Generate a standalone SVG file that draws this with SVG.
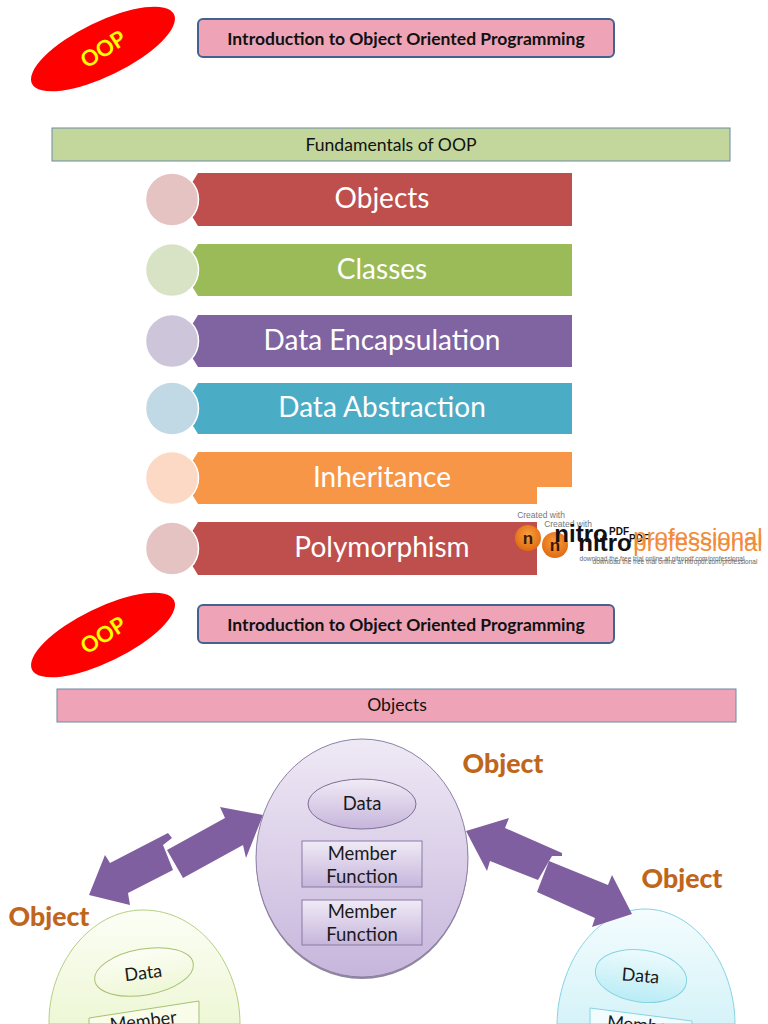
<svg xmlns="http://www.w3.org/2000/svg" width="768" height="1024" viewBox="0 0 768 1024">
<style>
text{font-family:"Lato","Open Sans","Liberation Sans",sans-serif;text-anchor:middle}
.t{font-size:17.600px;fill:#111}
.tb{font-size:17.500px;fill:#111;font-weight:bold}
.b{font-size:28px;fill:#fff}
.o{font-weight:900;font-size:26.700px;fill:#c0661c}
.m{font-size:18.500px;fill:#1a1a1a}
.s{font-size:18px;fill:#1a1a1a}
.h{stroke:#44618f;stroke-width:2}
.c{stroke:#fff;stroke-width:1.5}
.oop{font-weight:bold;font-size:22px;fill:#ffff00}
.w{font-family:"Liberation Sans",sans-serif}
.wc{font-size:8.500px;fill:#777}
.wn{font-size:24px;font-weight:bold;fill:#111}
.wp{font-size:10px;font-weight:bold;fill:#111}
.wr{font-size:24px;fill:#f08c3c}
.wd{font-size:6.500px;fill:#666}
</style>
<defs>
<linearGradient id="pu" x1="0" y1="0" x2="0" y2="1"><stop offset="0" stop-color="#efe9f5"/><stop offset="1" stop-color="#c7b6dc"/></linearGradient>
<linearGradient id="pb" x1="0" y1="0" x2="0" y2="1"><stop offset="0" stop-color="#f0ebf6"/><stop offset="1" stop-color="#c6b5db"/></linearGradient>
<linearGradient id="gr" x1="0" y1="0" x2="0" y2="1"><stop offset="0" stop-color="#fcfef5"/><stop offset="1" stop-color="#eef7d6"/></linearGradient>
<linearGradient id="bl" x1="0" y1="0" x2="0" y2="1"><stop offset="0" stop-color="#f4fcfe"/><stop offset="1" stop-color="#d5f3f8"/></linearGradient>
<linearGradient id="bl2" x1="0" y1="0" x2="0" y2="1"><stop offset="0" stop-color="#eefbfd"/><stop offset="1" stop-color="#b9ecf5"/></linearGradient>
<radialGradient id="nb" cx="0.5" cy="0.4" r="0.6"><stop offset="0" stop-color="#f8a040"/><stop offset="1" stop-color="#e06a10"/></radialGradient>
</defs>
<rect width="768" height="1024" fill="#fff"/>

<g id="oop-1"><ellipse cx="103" cy="49" rx="79" ry="27" transform="rotate(-26 103 49)" fill="#f00"/><text class="oop" x="103" y="57" transform="rotate(-33 103 49)">OOP</text></g>
<g id="title-1"><rect class="h" x="198" y="19" width="416" height="38" rx="5" fill="#eea4b6"/><text class="tb" x="406" y="45">Introduction to Object Oriented Programming</text></g>
<g id="fundamentals"><rect x="52" y="128" width="678" height="33" fill="#c3d69b" stroke="#6d8aa8" stroke-width="1"/><text class="t" x="391" y="151">Fundamentals of OOP</text></g>

<g id="item-objects"><path d="M198 173H572V226H198L190 213V186Z" fill="#be4f4d"/><circle class="c" cx="172" cy="199.500" r="26.500" fill="#e5c3c3"/><text class="b" x="382" y="208">Objects</text></g>
<g id="item-classes"><path d="M198 244H572V296H198L190 283V257Z" fill="#9bbb59"/><circle class="c" cx="172" cy="270" r="26.500" fill="#d8e3c5"/><text class="b" x="382" y="279">Classes</text></g>
<g id="item-encapsulation"><path d="M198 315H572V367H198L190 354V328Z" fill="#8064a2"/><circle class="c" cx="172" cy="341" r="26.500" fill="#cdc5d9"/><text class="b" x="382" y="350">Data Encapsulation</text></g>
<g id="item-abstraction"><path d="M198 383H572V434H198L190 421V396Z" fill="#4bacc6"/><circle class="c" cx="172" cy="408.500" r="26.500" fill="#c1d9e4"/><text class="b" x="382" y="417">Data Abstraction</text></g>
<g id="item-inheritance"><path d="M198 452H572V487H537V504H198L190 491V465Z" fill="#f79646"/><circle class="c" cx="172" cy="478" r="26.500" fill="#fbd9c4"/><text class="b" x="382" y="487">Inheritance</text></g>
<g id="item-polymorphism"><path d="M198 522H537V575H198L190 562V535Z" fill="#be4f4d"/><circle class="c" cx="172" cy="548.500" r="26.500" fill="#e5c3c3"/><text class="b" x="382" y="557">Polymorphism</text></g>

<g id="watermark">
<text class="w wc" x="541" y="518">Created with</text>
<text class="w wc" x="568" y="527">Created with</text>
<circle cx="528" cy="538" r="13" fill="url(#nb)"/><circle cx="555" cy="545" r="13" fill="url(#nb)"/>
<text class="w" x="528" y="544" font-size="17" font-weight="bold" fill="#3a1a00">n</text><text class="w" x="555" y="551" font-size="17" font-weight="bold" fill="#3a1a00">n</text>
<text class="w wn" x="581" y="542">nitro</text><text class="w wn" x="605" y="551">nitro</text>
<text class="w wp" x="619" y="535">PDF</text><text class="w wp" x="639" y="542">PDF</text>
<text class="w wr" x="698" y="545">professional</text><text class="w wr" x="698" y="551">professional</text>
<text class="w wd" x="662" y="561">download the free trial online at nitropdf.com/professional</text>
<text class="w wd" x="675" y="564">download the free trial online at nitropdf.com/professional</text>
</g>

<g id="oop-2"><ellipse cx="103" cy="635" rx="79" ry="27" transform="rotate(-26 103 635)" fill="#f00"/><text class="oop" x="103" y="643" transform="rotate(-33 103 635)">OOP</text></g>
<g id="title-2"><rect class="h" x="198" y="605" width="416" height="38" rx="5" fill="#eea4b6"/><text class="tb" x="406" y="631">Introduction to Object Oriented Programming</text></g>
<g id="objects-bar"><rect x="57" y="689" width="679" height="33" fill="#eea4b6" stroke="#6d8aa8" stroke-width="1"/><text class="t" x="397" y="711">Objects</text></g>

<g id="object-center">
<ellipse cx="362" cy="860" rx="106" ry="119" fill="#5f5570" opacity="0.7"/>
<ellipse cx="362" cy="858" rx="106" ry="119" fill="url(#pu)" stroke="#8d80a5" stroke-width="1"/>
<ellipse cx="362" cy="804" rx="54" ry="25" fill="url(#pb)" stroke="#7d6f95"/>
<text class="m" x="362" y="810">Data</text>
<rect x="302" y="841" width="120" height="46" fill="url(#pb)" stroke="#8a7aa5"/>
<text class="m" x="362" y="860">Member</text><text class="m" x="362" y="883">Function</text>
<rect x="302" y="900" width="120" height="45" fill="url(#pb)" stroke="#8a7aa5"/>
<text class="m" x="362" y="918">Member</text><text class="m" x="362" y="941">Function</text>
<text class="o" x="503" y="773">Object</text>
</g>
<g id="object-left">
<path d="M49 1024C48 965 90 910 143 910C200 910 240 965 240 1024Z" fill="url(#gr)" stroke="#b5cf83"/>
<ellipse cx="144" cy="972" rx="50" ry="23" transform="rotate(-10 144 972)" fill="url(#gr)" stroke="#a5c270"/>
<text class="s" transform="translate(144 979) rotate(-7)">Data</text>
<path d="M89 1024V1018L199 1001V1024Z" fill="#f8fce9" stroke="#a5c270"/>
<text class="s" transform="translate(144 1027) rotate(-7)">Member</text>
<text class="o" x="49" y="926">Object</text>
</g>
<g id="object-right">
<path d="M557 1024C558 965 595 909 645 909C695 909 735 965 735 1024Z" fill="url(#bl)" stroke="#86d3e3"/>
<ellipse cx="641" cy="976" rx="46" ry="26" transform="rotate(8 641 976)" fill="url(#bl2)" stroke="#86d3e3"/>
<text class="s" transform="translate(640 982) rotate(5)">Data</text>
<path d="M590 1024V1008L692 1021V1024Z" fill="#f2fcfe" stroke="#86d3e3"/>
<text class="s" transform="translate(640 1031) rotate(5)">Member</text>
<text class="o" x="682" y="888">Object</text>
</g>

<g id="connectors" fill="#7f5f9f">
<path d="M89 895L105 855L110 863L168 833L172 838L163 845L173 870L128 893L130 905Z"/>
<path d="M263 815L220 807L225 818L167 850L183 878L243 845L246 858Z"/>
<path d="M466 831L509 818L505 828L562 853V856H552L538 880L490 861L487 871Z"/>
<path d="M632 914L592 927L595 918L537 892L549 861L608 885L612 875Z"/>
</g>
</svg>
